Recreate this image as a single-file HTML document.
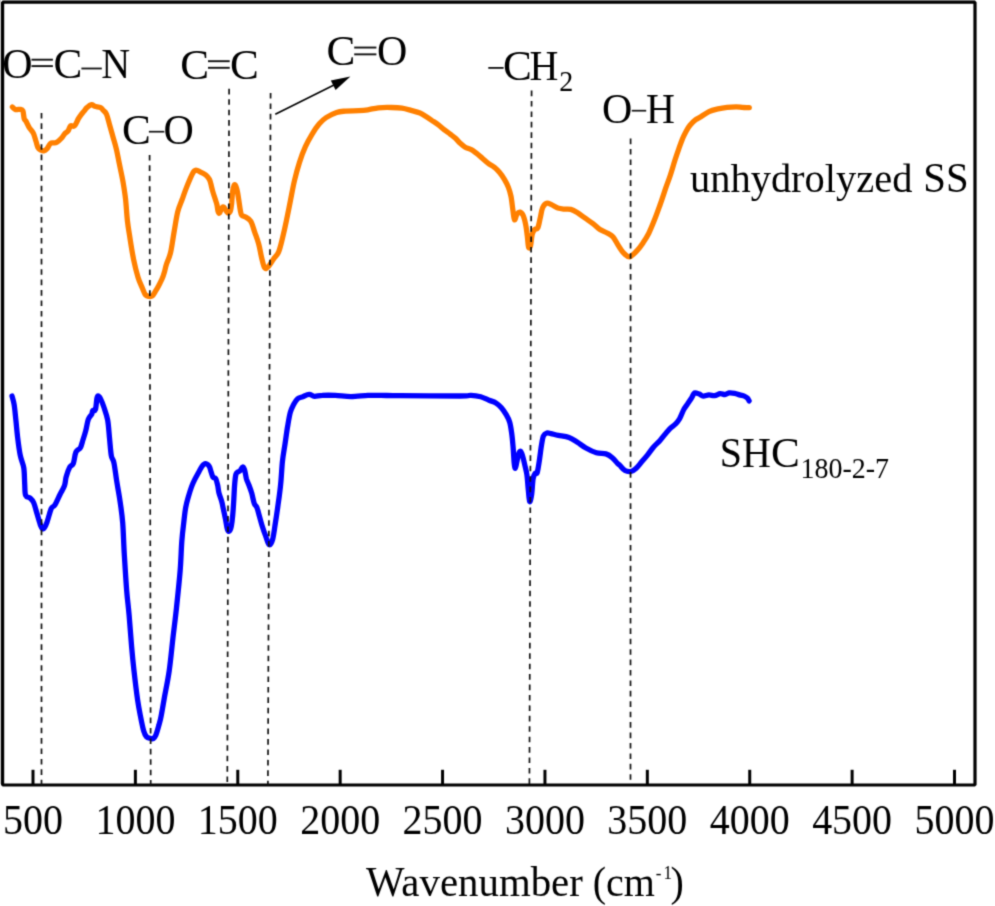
<!DOCTYPE html>
<html><head><meta charset="utf-8">
<style>
html,body{margin:0;padding:0;background:#fff;width:995px;height:906px;overflow:hidden}
svg{display:block}
text{font-family:"Liberation Serif",serif;fill:#000}
</style></head><body>
<svg width="995" height="906" viewBox="0 0 995 906">
<defs><filter id="soft" x="0" y="0" width="1" height="1" color-interpolation-filters="sRGB"><feConvolveMatrix order="3" kernelMatrix="0.0276 0.1109 0.0276 0.1109 0.4462 0.1109 0.0276 0.1109 0.0276" edgeMode="duplicate"/></filter></defs>
<g filter="url(#soft)">
<rect x="0" y="0" width="995" height="906" fill="#fff"/>
<rect x="0" y="0" width="1" height="784" fill="#ccc"/>
<rect x="2.6" y="2.2" width="972.4" height="782.8" fill="none" stroke="#000" stroke-width="3.2" stroke-linejoin="bevel"/>
<g stroke="#000" stroke-width="3"><line x1="33.00" y1="769.8" x2="33.00" y2="785"/><line x1="135.39" y1="769.8" x2="135.39" y2="785"/><line x1="237.78" y1="769.8" x2="237.78" y2="785"/><line x1="340.17" y1="769.8" x2="340.17" y2="785"/><line x1="442.56" y1="769.8" x2="442.56" y2="785"/><line x1="544.95" y1="769.8" x2="544.95" y2="785"/><line x1="647.34" y1="769.8" x2="647.34" y2="785"/><line x1="749.73" y1="769.8" x2="749.73" y2="785"/><line x1="852.12" y1="769.8" x2="852.12" y2="785"/><line x1="954.51" y1="769.8" x2="954.51" y2="785"/></g>
<text transform="translate(33.00 833.60) scale(1.0 1.08)" font-size="40" text-anchor="middle">500</text>
<text transform="translate(135.39 833.60) scale(1.0 1.08)" font-size="40" text-anchor="middle">1000</text>
<text transform="translate(237.78 833.60) scale(1.0 1.08)" font-size="40" text-anchor="middle">1500</text>
<text transform="translate(340.17 833.60) scale(1.0 1.08)" font-size="40" text-anchor="middle">2000</text>
<text transform="translate(442.56 833.60) scale(1.0 1.08)" font-size="40" text-anchor="middle">2500</text>
<text transform="translate(544.95 833.60) scale(1.0 1.08)" font-size="40" text-anchor="middle">3000</text>
<text transform="translate(647.34 833.60) scale(1.0 1.08)" font-size="40" text-anchor="middle">3500</text>
<text transform="translate(749.73 833.60) scale(1.0 1.08)" font-size="40" text-anchor="middle">4000</text>
<text transform="translate(852.12 833.60) scale(1.0 1.08)" font-size="40" text-anchor="middle">4500</text>
<text transform="translate(954.51 833.60) scale(1.0 1.08)" font-size="40" text-anchor="middle">5000</text>
<text transform="translate(366.00 896.00) scale(1.022 1.08)" font-size="40">Wavenumber</text>
<text transform="translate(592.70 896.00) scale(1.0 1.08)" font-size="40">(cm</text>
<text transform="translate(655.70 879.10) scale(1.0 1.08)" font-size="17">-</text>
<text transform="translate(663.40 879.10) scale(1.0 1.08)" font-size="17">1</text>
<text transform="translate(670.60 896.00) scale(1.0 1.08)" font-size="40">)</text>
<text transform="translate(2.20 77.80) scale(1.05 1.08)" font-size="40">O</text>
<rect x="31.50" y="58.75" width="21.40" height="1.9" fill="#111"/><rect x="31.50" y="65.15" width="21.40" height="1.9" fill="#111"/>
<text transform="translate(53.40 77.80) scale(1.08 1.08)" font-size="40">C</text>
<rect x="81.40" y="67.60" width="20.40" height="1.8" fill="#111"/>
<text transform="translate(101.20 77.80) scale(1.0 1.08)" font-size="40">N</text>
<text transform="translate(180.20 78.80) scale(1.08 1.08)" font-size="40">C</text>
<rect x="208.00" y="60.25" width="21.70" height="1.9" fill="#111"/><rect x="208.00" y="66.85" width="21.70" height="1.9" fill="#111"/>
<text transform="translate(229.90 78.80) scale(1.08 1.08)" font-size="40">C</text>
<text transform="translate(326.50 64.80) scale(1.08 1.08)" font-size="40">C</text>
<rect x="354.20" y="46.60" width="22.20" height="1.9" fill="#111"/><rect x="354.20" y="53.40" width="22.20" height="1.9" fill="#111"/>
<text transform="translate(377.10 64.80) scale(1.05 1.08)" font-size="40">O</text>
<text transform="translate(122.00 143.60) scale(1.08 1.08)" font-size="40">C</text>
<rect x="148.90" y="130.85" width="15.40" height="1.7" fill="#111"/>
<text transform="translate(163.50 143.60) scale(1.05 1.08)" font-size="40">O</text>
<rect x="488.30" y="67.00" width="15.30" height="1.8" fill="#111"/>
<text transform="translate(503.00 79.90) scale(1.08 1.035)" font-size="40">C</text>
<text transform="translate(529.60 79.90) scale(1.0 1.035)" font-size="40">H</text>
<text transform="translate(559.20 90.60) scale(1.0 1.08)" font-size="28">2</text>
<text transform="translate(602.10 122.60) scale(1.05 1.08)" font-size="40">O</text>
<rect x="631.80" y="109.85" width="14.40" height="1.7" fill="#111"/>
<text transform="translate(645.90 122.60) scale(1.0 1.08)" font-size="40">H</text>
<text transform="translate(690.00 191.50) scale(1.011 1.0)" font-size="40">unhydrolyzed</text>
<text transform="translate(923.30 191.50) scale(1.02 1.06)" font-size="40">SS</text>
<text transform="translate(719.80 466.80) scale(1.0 1.08)" font-size="40">SH</text>
<text transform="translate(770.92 466.80) scale(1.08 1.08)" font-size="40">C</text>
<text transform="translate(800.40 477.60) scale(1.0 1.08)" font-size="28">180-2-7</text>
<line x1="275.3" y1="114.2" x2="336" y2="84" stroke="#000" stroke-width="1.6"/>
<path d="M350.4,76.5 L330.8,80.5 L335.6,90.1 Z" fill="#000"/>
<path fill="none" stroke="#ff8000" stroke-width="5.3" stroke-linejoin="round" stroke-linecap="round" d="M12.4,107.0 C12.9,107.4 14.4,109.2 15.7,109.6 C17.0,110.0 19.1,109.1 20.3,109.3 C21.5,109.5 22.2,109.3 22.9,110.9 C23.5,112.5 23.7,117.0 24.2,118.7 C24.7,120.5 25.2,119.9 26.1,121.4 C27.0,122.9 28.2,126.0 29.4,127.9 C30.6,129.8 32.2,130.9 33.3,133.1 C34.4,135.3 35.1,138.6 35.9,141.0 C36.7,143.4 37.1,146.0 37.9,147.5 C38.7,149.0 39.5,149.5 40.5,150.1 C41.5,150.7 42.7,151.0 43.8,150.8 C44.9,150.6 45.9,150.0 47.0,148.8 C48.1,147.6 49.2,144.6 50.3,143.6 C51.4,142.6 52.5,143.1 53.6,142.9 C54.7,142.7 55.5,143.1 56.8,142.3 C58.1,141.5 60.1,139.7 61.4,138.3 C62.7,136.9 63.6,135.0 64.7,133.8 C65.8,132.6 66.9,132.5 67.9,131.2 C68.9,129.9 69.5,126.8 70.6,125.9 C71.7,125.0 73.2,127.1 74.5,125.9 C75.8,124.7 77.3,120.6 78.4,118.7 C79.5,116.8 80.0,116.1 81.0,114.8 C82.0,113.5 83.3,112.1 84.3,110.9 C85.3,109.7 85.7,108.6 86.9,107.6 C88.1,106.5 90.2,104.8 91.5,104.6 C92.8,104.4 93.2,105.8 94.7,106.3 C96.2,106.8 99.2,106.9 100.6,107.6 C102.0,108.3 102.2,109.2 103.2,110.3 C104.2,111.4 105.4,111.7 106.5,114.2 C107.6,116.7 108.6,121.5 109.7,125.3 C110.8,129.1 111.9,133.1 113.0,137.0 C114.1,140.9 115.2,144.3 116.3,148.8 C117.4,153.3 118.3,158.6 119.4,164.1 C120.5,169.6 122.0,175.9 123.0,181.8 C124.0,187.7 124.9,193.0 125.6,199.5 C126.3,206.0 126.7,214.1 127.4,220.6 C128.1,227.1 129.0,231.8 130.0,238.3 C131.0,244.8 132.3,253.0 133.6,259.5 C134.9,266.0 136.6,272.5 138.0,277.2 C139.4,281.9 141.1,285.0 142.3,287.9 C143.5,290.8 144.1,293.1 145.2,294.5 C146.3,295.9 147.7,296.1 148.9,296.4 C150.1,296.6 151.1,296.9 152.2,296.0 C153.3,295.1 154.4,293.0 155.5,291.2 C156.6,289.4 157.7,287.5 158.8,285.4 C159.9,283.3 161.1,281.1 162.1,278.8 C163.1,276.5 163.9,273.8 164.6,271.4 C165.3,269.0 165.3,267.9 166.3,264.7 C167.3,261.5 169.3,258.0 170.6,252.4 C171.9,246.8 173.0,238.0 174.2,231.2 C175.4,224.4 176.4,217.1 177.7,211.8 C179.0,206.5 180.5,203.9 182.1,199.5 C183.7,195.1 185.4,190.1 187.4,185.3 C189.4,180.5 192.1,173.0 194.3,170.8 C196.5,168.6 198.9,171.5 200.8,172.2 C202.7,172.9 204.4,173.9 205.8,175.1 C207.2,176.3 208.6,178.0 209.4,179.4 C210.2,180.8 210.3,181.8 210.8,183.7 C211.3,185.6 211.9,188.4 212.6,190.9 C213.3,193.4 214.4,196.5 215.1,198.8 C215.8,201.1 216.4,202.5 216.9,204.5 C217.4,206.5 217.6,209.6 218.0,211.0 C218.4,212.4 218.8,213.7 219.5,213.1 C220.2,212.5 221.5,208.3 222.3,207.4 C223.1,206.5 223.4,206.8 224.1,207.4 C224.8,208.0 225.6,210.1 226.3,211.0 C227.0,211.9 227.7,213.2 228.4,213.1 C229.1,213.0 230.1,211.9 230.6,210.2 C231.1,208.5 231.3,206.3 231.7,203.1 C232.0,199.9 232.2,193.9 232.7,190.9 C233.2,187.9 233.9,185.5 234.5,184.8 C235.1,184.1 235.5,185.5 236.0,186.6 C236.5,187.7 236.9,189.3 237.4,191.6 C237.9,193.9 238.3,197.1 238.8,200.2 C239.3,203.3 239.8,207.7 240.3,210.2 C240.8,212.7 240.9,214.2 241.7,215.3 C242.5,216.4 243.5,215.7 245.0,216.7 C246.5,217.7 249.1,218.6 250.7,221.2 C252.3,223.8 253.4,228.3 254.7,232.1 C256.0,235.9 257.5,239.7 258.7,244.0 C259.9,248.3 260.7,254.0 261.7,258.0 C262.7,262.0 263.5,266.5 264.7,267.9 C265.9,269.3 267.1,267.8 268.6,266.3 C270.1,264.8 271.9,261.4 273.6,259.0 C275.3,256.6 277.1,255.5 278.6,252.0 C280.1,248.5 281.2,243.4 282.5,238.1 C283.8,232.8 285.2,226.5 286.5,220.2 C287.8,213.9 289.2,206.9 290.5,200.3 C291.8,193.7 293.0,186.8 294.5,180.5 C296.0,174.2 297.6,168.2 299.4,162.6 C301.2,157.0 303.2,151.5 305.4,146.7 C307.5,141.9 310.0,137.6 312.3,133.8 C314.6,130.0 317.0,126.5 319.3,123.8 C321.6,121.1 323.2,119.5 326.1,117.6 C329.0,115.7 333.3,113.5 336.6,112.4 C339.9,111.3 342.0,111.4 345.7,111.1 C349.4,110.8 355.1,110.9 358.8,110.7 C362.5,110.5 364.6,110.3 367.9,109.8 C371.2,109.3 374.5,108.2 378.4,107.8 C382.3,107.4 387.6,107.4 391.5,107.5 C395.4,107.6 398.6,107.7 401.9,108.2 C405.2,108.7 408.1,109.6 411.1,110.4 C414.1,111.2 417.5,112.0 420.0,113.0 C422.5,114.0 424.0,115.2 426.0,116.5 C428.0,117.8 430.1,119.2 432.1,120.6 C434.1,121.9 436.1,123.1 438.1,124.6 C440.1,126.1 442.1,128.0 444.1,129.6 C446.1,131.2 448.4,132.7 450.2,134.1 C452.0,135.5 453.5,136.6 455.2,138.1 C456.9,139.6 458.5,141.7 460.2,143.2 C461.9,144.7 463.3,146.1 465.2,147.2 C467.1,148.3 469.4,148.7 471.3,149.7 C473.2,150.7 474.5,151.8 476.3,153.2 C478.1,154.6 480.3,156.5 482.3,158.2 C484.3,159.9 486.3,161.8 488.3,163.3 C490.3,164.8 492.5,165.8 494.4,167.3 C496.2,168.8 497.7,170.3 499.4,172.3 C501.1,174.3 502.9,176.8 504.4,179.3 C505.9,181.8 507.3,184.6 508.4,187.4 C509.5,190.2 510.2,192.6 511.0,196.4 C511.8,200.2 512.3,206.3 512.9,210.2 C513.5,214.1 513.8,219.1 514.5,219.8 C515.2,220.5 516.0,215.5 516.9,214.2 C517.8,212.9 519.0,211.8 520.1,212.1 C521.2,212.4 522.4,213.7 523.3,215.8 C524.2,217.9 525.0,221.3 525.7,224.7 C526.4,228.0 526.8,232.2 527.3,235.9 C527.8,239.7 528.0,245.6 528.6,247.2 C529.2,248.8 530.0,247.8 530.6,245.6 C531.2,243.4 531.5,237.0 532.2,234.3 C532.9,231.6 533.7,230.6 534.6,229.5 C535.5,228.4 536.9,229.8 537.8,227.9 C538.7,226.0 539.4,221.5 540.2,218.2 C541.0,214.8 541.5,210.3 542.6,207.8 C543.7,205.3 545.1,203.8 546.6,203.3 C548.1,202.8 549.6,203.8 551.5,204.6 C553.4,205.4 555.8,207.3 557.9,208.1 C560.0,208.8 562.1,208.9 564.3,209.1 C566.4,209.3 568.6,208.8 570.8,209.4 C572.9,210.0 574.8,211.1 577.2,212.6 C579.6,214.1 582.5,216.3 585.2,218.2 C587.9,220.1 590.8,222.0 593.3,223.9 C595.8,225.8 597.6,227.9 600.0,229.5 C602.4,231.1 605.3,231.9 607.5,233.2 C609.7,234.4 611.2,234.8 613.1,237.0 C615.0,239.2 616.9,243.5 618.8,246.3 C620.7,249.1 622.5,252.1 624.4,253.8 C626.3,255.5 627.8,257.3 630.0,256.7 C632.2,256.1 635.3,252.4 637.5,250.1 C639.7,247.8 641.3,245.4 643.2,242.6 C645.1,239.8 646.9,236.9 648.8,233.2 C650.7,229.4 652.5,224.8 654.4,220.1 C656.3,215.4 658.1,210.3 660.0,205.0 C661.9,199.7 664.0,193.2 665.7,188.2 C667.4,183.2 668.9,179.7 670.4,175.0 C671.9,170.3 673.6,164.4 675.0,160.0 C676.4,155.6 677.5,152.4 678.8,148.8 C680.1,145.2 681.4,141.5 682.6,138.5 C683.9,135.5 685.1,133.2 686.3,131.0 C687.5,128.8 688.4,127.2 690.0,125.3 C691.6,123.4 694.0,121.0 695.7,119.7 C697.4,118.4 697.8,118.7 700.0,117.3 C702.2,115.9 706.0,113.0 709.0,111.6 C712.0,110.2 715.1,109.6 718.1,108.9 C721.1,108.2 724.1,107.7 727.1,107.3 C730.1,106.9 733.7,106.8 736.2,106.8 C738.7,106.8 740.0,107.1 742.2,107.3 C744.4,107.5 748.1,107.6 749.3,107.7"/>
<path fill="none" stroke="#0000ff" stroke-width="5.3" stroke-linejoin="round" stroke-linecap="round" d="M12.0,396.0 C12.3,397.4 13.4,400.3 14.1,404.4 C14.8,408.4 15.3,414.7 15.9,420.3 C16.5,425.9 17.0,432.1 17.7,438.0 C18.4,443.9 19.3,450.6 20.3,455.6 C21.3,460.6 23.1,463.3 23.8,468.0 C24.5,472.7 24.4,479.3 24.7,483.9 C25.0,488.5 24.7,493.0 25.6,495.4 C26.5,497.8 28.7,496.8 30.0,498.0 C31.3,499.2 32.4,499.9 33.6,502.5 C34.8,505.1 35.9,510.1 37.1,513.9 C38.3,517.7 39.6,522.9 40.6,525.4 C41.6,527.9 42.3,529.3 43.3,528.9 C44.3,528.5 45.5,526.2 46.8,522.8 C48.1,519.4 49.9,511.6 51.2,508.6 C52.5,505.7 53.3,507.5 54.8,505.1 C56.3,502.8 58.4,497.7 60.0,494.5 C61.6,491.3 63.5,488.6 64.5,485.7 C65.5,482.8 65.3,479.9 66.2,476.8 C67.1,473.7 68.6,469.3 69.8,467.1 C71.0,464.9 72.3,466.1 73.3,463.6 C74.3,461.1 74.7,454.8 75.9,452.1 C77.1,449.5 79.2,449.8 80.4,447.7 C81.6,445.6 82.1,442.6 83.0,439.8 C83.9,437.0 84.8,434.3 85.7,430.9 C86.6,427.5 87.3,422.2 88.3,419.4 C89.3,416.6 91.1,415.6 91.8,414.1 C92.5,412.6 92.1,411.3 92.7,410.6 C93.3,409.9 94.7,411.6 95.4,409.7 C96.1,407.8 96.4,401.4 96.8,399.1 C97.2,396.8 97.3,396.0 98.0,396.0 C98.7,396.0 99.7,397.1 100.7,399.1 C101.7,401.1 103.0,404.5 104.2,408.0 C105.4,411.5 106.8,415.3 107.7,420.3 C108.6,425.3 108.9,432.1 109.5,438.0 C110.1,443.9 110.6,451.5 111.3,455.6 C112.0,459.7 113.0,458.6 113.9,462.7 C114.8,466.8 115.6,473.9 116.6,480.4 C117.6,486.9 119.1,494.5 120.1,501.6 C121.1,508.7 122.0,514.0 122.7,522.8 C123.4,531.6 123.6,543.0 124.3,554.3 C125.0,565.6 125.9,580.6 126.7,590.7 C127.5,600.8 128.3,605.7 129.1,615.0 C129.9,624.3 130.8,637.2 131.6,646.5 C132.4,655.8 133.0,661.9 134.0,670.8 C135.0,679.7 136.5,692.3 137.6,699.9 C138.7,707.5 139.5,711.1 140.5,716.3 C141.5,721.5 142.7,727.8 143.8,731.2 C144.8,734.7 145.5,735.7 146.6,736.9 C147.7,738.1 149.2,738.0 150.3,738.3 C151.4,738.6 152.2,739.3 153.1,738.8 C154.0,738.2 155.0,737.2 155.9,735.0 C156.8,732.8 157.9,728.7 158.8,725.6 C159.6,722.5 160.2,720.9 161.1,716.2 C162.0,711.6 163.1,705.1 164.4,697.5 C165.8,689.9 167.8,680.5 169.2,670.8 C170.6,661.1 171.6,649.7 172.8,639.2 C174.0,628.7 175.3,619.0 176.5,607.7 C177.7,596.4 179.2,582.3 180.1,571.3 C181.0,560.3 181.2,549.5 181.8,541.5 C182.4,533.5 183.0,528.9 183.7,523.2 C184.3,517.5 184.9,511.9 185.7,507.5 C186.5,503.1 187.3,500.5 188.3,497.0 C189.3,493.5 190.5,489.5 191.6,486.6 C192.7,483.7 193.6,481.8 194.8,479.4 C196.0,477.0 197.5,474.4 198.7,472.2 C199.9,470.0 200.9,467.7 202.0,466.3 C203.1,464.9 204.1,463.7 205.3,463.7 C206.5,463.7 208.2,464.9 209.2,466.3 C210.2,467.7 210.5,470.4 211.2,472.2 C211.8,474.0 212.3,476.3 213.1,477.4 C213.8,478.5 214.9,477.4 215.7,478.7 C216.5,480.0 217.1,482.9 217.7,485.3 C218.2,487.7 218.3,490.5 219.0,493.1 C219.7,495.7 220.8,498.2 221.6,501.0 C222.4,503.8 222.9,507.1 223.6,510.1 C224.2,513.1 224.8,515.9 225.5,519.2 C226.2,522.5 226.8,527.7 227.5,529.7 C228.2,531.7 228.8,531.6 229.4,531.0 C230.1,530.4 230.9,528.4 231.4,525.8 C231.9,523.2 232.3,519.7 232.7,515.3 C233.1,510.9 233.5,504.8 233.8,499.6 C234.1,494.4 234.3,488.2 234.7,484.0 C235.1,479.8 235.3,476.3 236.0,474.2 C236.7,472.1 237.8,472.2 238.6,471.6 C239.4,471.0 239.9,471.1 240.6,470.3 C241.2,469.5 241.8,467.1 242.5,467.0 C243.2,466.9 243.8,467.7 244.5,469.6 C245.2,471.6 245.7,476.1 246.4,478.7 C247.2,481.3 248.1,482.9 249.0,485.3 C249.9,487.7 250.8,490.1 251.7,493.1 C252.6,496.2 253.4,501.2 254.3,503.6 C255.2,506.0 256.0,505.3 256.9,507.5 C257.8,509.7 258.6,513.6 259.5,516.6 C260.4,519.6 261.1,522.6 262.1,525.8 C263.1,529.0 264.4,532.8 265.6,535.9 C266.8,539.0 267.9,544.1 269.1,544.7 C270.3,545.3 271.6,542.9 272.6,539.4 C273.6,535.9 274.4,529.1 275.3,523.5 C276.2,517.9 277.0,512.4 277.9,505.9 C278.8,499.4 279.9,492.0 280.6,484.7 C281.4,477.4 281.7,468.6 282.4,461.8 C283.1,455.0 284.1,450.0 285.0,444.1 C285.9,438.2 286.7,431.8 287.6,426.5 C288.5,421.2 289.3,416.0 290.3,412.4 C291.3,408.8 292.3,407.1 293.5,404.8 C294.7,402.6 295.9,400.2 297.4,398.9 C298.9,397.5 300.7,397.4 302.7,396.7 C304.7,395.9 307.2,394.5 309.2,394.4 C311.1,394.3 312.2,396.1 314.4,396.3 C316.6,396.5 318.8,395.5 322.3,395.4 C325.8,395.2 330.5,395.2 335.3,395.4 C340.1,395.6 345.6,396.6 351.0,396.6 C356.4,396.6 363.0,395.6 368.0,395.4 C373.0,395.2 375.7,395.3 381.0,395.4 C386.3,395.4 386.8,395.6 400.0,395.7 C413.2,395.8 448.2,396.1 460.0,396.0 C471.8,395.9 467.6,395.2 471.0,395.3 C474.4,395.4 477.7,395.9 480.7,396.7 C483.7,397.5 486.5,399.2 489.0,400.2 C491.5,401.2 493.8,401.6 495.9,402.9 C498.0,404.2 499.7,405.8 501.4,407.8 C503.1,409.8 504.8,412.3 506.2,414.7 C507.6,417.1 508.8,419.1 509.7,422.2 C510.6,425.3 511.1,429.1 511.7,433.3 C512.3,437.5 512.7,442.3 513.1,447.1 C513.5,451.9 513.8,458.6 514.1,462.2 C514.5,465.8 514.8,468.4 515.2,468.4 C515.7,468.4 516.2,464.6 516.8,462.2 C517.4,459.8 518.0,455.8 518.6,454.0 C519.2,452.2 520.0,450.8 520.7,451.2 C521.4,451.6 522.1,454.4 522.8,456.7 C523.5,459.0 524.1,462.0 524.8,465.0 C525.5,468.0 526.3,470.6 526.9,474.7 C527.5,478.8 527.8,485.3 528.3,489.8 C528.8,494.3 529.1,500.9 529.7,501.6 C530.3,502.3 531.1,497.8 531.7,494.0 C532.3,490.2 532.5,482.2 533.1,478.8 C533.7,475.4 534.5,474.3 535.2,473.3 C535.9,472.3 536.5,474.7 537.2,472.6 C537.9,470.5 538.6,465.4 539.3,460.9 C540.0,456.4 540.7,449.8 541.4,445.7 C542.1,441.6 542.5,438.1 543.4,436.0 C544.3,433.9 545.6,433.4 546.9,433.0 C548.2,432.6 549.1,433.2 551.0,433.6 C552.9,434.0 555.4,434.7 558.4,435.3 C561.4,435.9 565.8,436.2 569.0,437.4 C572.2,438.6 574.6,440.5 577.4,442.3 C580.2,444.1 582.7,446.2 585.9,448.0 C589.1,449.8 593.1,451.8 596.4,452.8 C599.7,453.8 603.2,453.1 605.9,453.9 C608.5,454.7 610.4,456.1 612.3,457.7 C614.2,459.3 616.2,462.1 617.5,463.4 C618.8,464.7 618.8,464.3 620.0,465.5 C621.2,466.7 623.2,469.5 625.0,470.5 C626.8,471.5 629.1,471.8 630.9,471.5 C632.7,471.2 634.1,470.1 635.9,468.5 C637.7,466.9 639.9,463.9 641.9,461.6 C643.9,459.3 645.8,457.1 647.8,454.6 C649.8,452.1 651.8,449.0 653.8,446.7 C655.8,444.4 658.0,442.7 659.8,440.7 C661.6,438.7 663.1,436.7 664.7,434.7 C666.4,432.7 667.9,430.6 669.7,428.8 C671.5,427.0 674.1,425.5 675.7,423.8 C677.4,422.1 678.3,421.1 679.6,418.8 C680.9,416.5 682.3,412.4 683.6,409.9 C684.9,407.4 686.3,405.9 687.6,403.9 C688.9,401.9 690.5,399.7 691.6,397.9 C692.8,396.1 693.2,393.6 694.5,393.0 C695.8,392.4 697.8,393.6 699.3,394.1 C700.8,394.6 701.7,396.0 703.3,396.1 C704.9,396.2 707.0,395.0 708.9,394.9 C710.8,394.8 712.7,395.9 714.6,395.7 C716.5,395.5 718.5,393.9 720.2,393.7 C721.9,393.5 723.5,394.6 725.0,394.5 C726.5,394.4 727.4,393.1 729.0,392.9 C730.6,392.7 733.0,393.0 734.7,393.3 C736.5,393.6 737.9,394.4 739.5,394.9 C741.1,395.4 743.0,395.6 744.3,396.1 C745.6,396.6 746.7,397.3 747.5,398.1 C748.3,398.9 748.8,400.4 749.1,400.9"/>
<g stroke="#111" stroke-width="1.7" stroke-dasharray="5.6,4.82" fill="none"><line x1="41.5" y1="112.9" x2="41.5" y2="785"/><line x1="149.6" y1="154.9" x2="150.7" y2="785"/><line x1="229.1" y1="88.8" x2="227.3" y2="785"/><line x1="270.6" y1="93" x2="267.9" y2="785"/><line x1="531.6" y1="90.6" x2="529.4" y2="785"/><line x1="630.6" y1="138.6" x2="630.5" y2="785"/></g>
</g>
</svg>
</body></html>
